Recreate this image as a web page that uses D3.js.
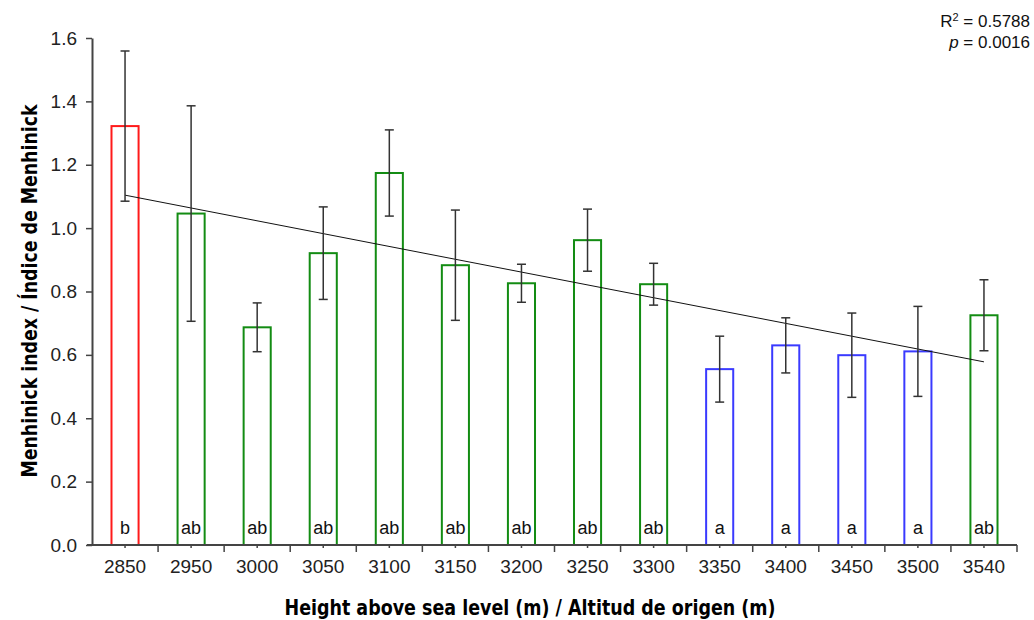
<!DOCTYPE html>
<html>
<head>
<meta charset="utf-8">
<script src="https://cdn.jsdelivr.net/npm/d3@7"></script>
<style>
  html, body { margin: 0; padding: 0; background: #fff; }
  svg { display: block; }
</style>
</head>
<body>
<svg id="chart" width="1034" height="620"></svg>
<script>
const categories = ["2850","2950","3000","3050","3100","3150","3200","3250","3300","3350","3400","3450","3500","3540"];
const means      = [1.322, 1.046, 0.687, 0.921, 1.174, 0.883, 0.826, 0.962, 0.823, 0.555, 0.630, 0.599, 0.611, 0.725];
const errors     = [0.237, 0.340, 0.077, 0.146, 0.136, 0.174, 0.060, 0.098, 0.066, 0.104, 0.087, 0.133, 0.142, 0.112];
const groups     = ["b","ab","ab","ab","ab","ab","ab","ab","ab","a","a","a","a","ab"];
const trendEnds  = [1.104, 0.578];
const yTicks     = [0, 0.2, 0.4, 0.6, 0.8, 1.0, 1.2, 1.4, 1.6];

const colorFor = { "b": "#ff1a1a", "ab": "#138c13", "a": "#3a3aff" };

const svg = d3.select("#chart");
const margin = { left: 92, right: 17, top: 38, bottom: 75 };
const W = 1034, H = 620;

const x = d3.scaleBand().domain(categories).range([margin.left, W - margin.right]).padding(0);
const y = d3.scaleLinear().domain([0, 1.6]).range([H - margin.bottom, margin.top]);

const axisColor = "#444";
const fontMain = "'Liberation Sans', Arial, sans-serif";

// bars
const bw = x.bandwidth() * 0.41;
svg.append("g").selectAll("rect").data(categories).join("rect")
  .attr("x", (d) => x(d) + x.bandwidth() / 2 - bw / 2)
  .attr("y", (d, i) => y(means[i]))
  .attr("width", bw)
  .attr("height", (d, i) => y(0) - y(means[i]))
  .attr("fill", "none")
  .attr("stroke", (d, i) => colorFor[groups[i]])
  .attr("stroke-width", 2);

// group letters
svg.append("g").selectAll("text").data(categories).join("text")
  .attr("x", (d) => x(d) + x.bandwidth() / 2)
  .attr("y", y(0) - 11)
  .attr("text-anchor", "middle")
  .attr("font-family", fontMain)
  .attr("font-size", 18)
  .attr("fill", "#111")
  .text((d, i) => groups[i]);

// trend line
const cx = (i) => x(categories[i]) + x.bandwidth() / 2;
svg.append("line")
  .attr("x1", cx(0)).attr("y1", y(trendEnds[0]))
  .attr("x2", cx(categories.length - 1)).attr("y2", y(trendEnds[1]))
  .attr("stroke", "#111").attr("stroke-width", 1);

// error bars
const eb = svg.append("g").attr("stroke", "#333").attr("stroke-width", 1.5);
categories.forEach((c, i) => {
  const xc = cx(i);
  const top = y(means[i] + errors[i]);
  const bot = y(means[i] - errors[i]);
  eb.append("line").attr("x1", xc).attr("x2", xc).attr("y1", top).attr("y2", bot);
  eb.append("line").attr("x1", xc - 4.5).attr("x2", xc + 4.5).attr("y1", top).attr("y2", top);
  eb.append("line").attr("x1", xc - 4.5).attr("x2", xc + 4.5).attr("y1", bot).attr("y2", bot);
});

// y axis
const yAxis = svg.append("g")
  .attr("transform", `translate(${margin.left},0)`)
  .call(d3.axisLeft(y).tickValues(yTicks).tickFormat(d3.format(".1f")).tickSize(6).tickSizeOuter(0).tickPadding(9));
yAxis.select(".domain").attr("stroke", axisColor).attr("stroke-width", 2);
yAxis.selectAll(".tick line").attr("stroke", axisColor).attr("stroke-width", 1.5);
yAxis.selectAll(".tick text").attr("font-family", fontMain).attr("font-size", 19).attr("fill", "#222");

// x axis
const xAxis = svg.append("g")
  .attr("transform", `translate(0,${y(0)})`)
  .call(d3.axisBottom(x).tickSize(3).tickSizeOuter(0).tickPadding(12));
xAxis.select(".domain").attr("stroke", axisColor).attr("stroke-width", 2)
  .attr("d", `M${margin.left - 5},0H${W - margin.right}`);
xAxis.selectAll(".tick line").attr("stroke", axisColor).attr("stroke-width", 1.5);
xAxis.selectAll(".tick text").attr("font-family", fontMain).attr("font-size", 19).attr("fill", "#222");
// boundary ticks
const bounds = categories.slice(1).map((c) => x(c)).concat([x.range()[1]]);
xAxis.append("g").selectAll("line").data(bounds).join("line")
  .attr("x1", (d) => d).attr("x2", (d) => d).attr("y1", 0).attr("y2", 7)
  .attr("stroke", axisColor).attr("stroke-width", 1.5);

// axis titles
const titleFont = "'DejaVu Sans Condensed', 'DejaVu Sans', sans-serif";
svg.append("text")
  .attr("x", 530).attr("y", 615)
  .attr("text-anchor", "middle")
  .attr("font-family", titleFont)
  .attr("font-weight", "bold")
  .attr("font-size", 21)
  .attr("textLength", 491)
  .attr("lengthAdjust", "spacingAndGlyphs")
  .attr("fill", "#000")
  .text("Height above sea level (m) / Altitud de origen (m)");

svg.append("text")
  .attr("transform", `translate(37,291) rotate(-90)`)
  .attr("text-anchor", "middle")
  .attr("font-family", titleFont)
  .attr("font-weight", "bold")
  .attr("font-size", 21)
  .attr("textLength", 373)
  .attr("lengthAdjust", "spacingAndGlyphs")
  .attr("fill", "#000")
  .text("Menhinick index / Índice de Menhinick");

// stats
const st = svg.append("g").attr("font-family", fontMain).attr("font-size", 17).attr("fill", "#111").attr("text-anchor", "end");
const t1 = st.append("text").attr("x", 1030).attr("y", 27);
t1.append("tspan").text("R");
t1.append("tspan").attr("font-size", 11).attr("dy", -6).text("2");
t1.append("tspan").attr("dy", 6).text(" = 0.5788");
const t2 = st.append("text").attr("x", 1030).attr("y", 48);
t2.append("tspan").attr("font-style", "italic").text("p");
t2.append("tspan").text(" = 0.0016");
</script>
</body>
</html>
